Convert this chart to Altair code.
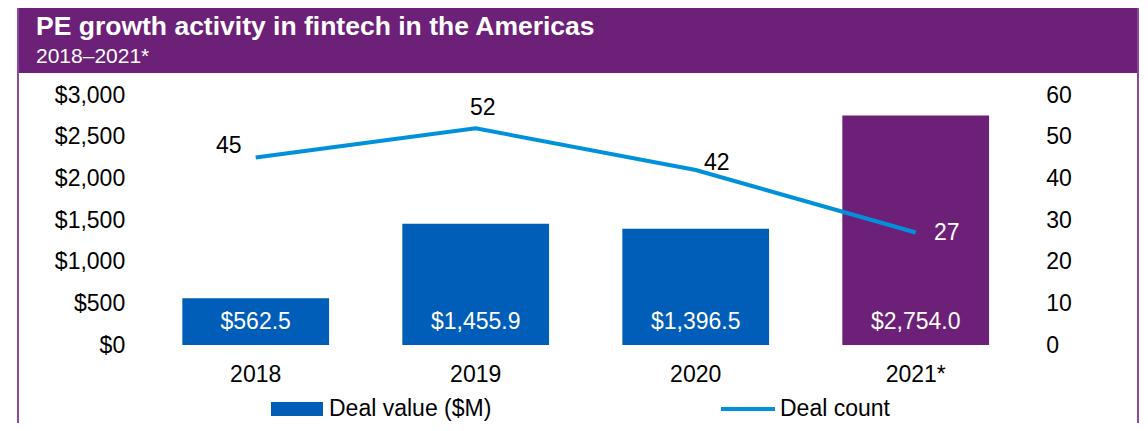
import altair as alt
import pandas as pd

# ---- data ----
years = ["2018", "2019", "2020", "2021*"]
deal_value = [562.5, 1455.9, 1396.5, 2754.0]
deal_count = [45, 52, 42, 27]
value_labels = ["$562.5", "$1,455.9", "$1,396.5", "$2,754.0"]
count_labels = ["45", "52", "42", "27"]

title_text = "PE growth activity in fintech in the Americas"
subtitle_text = "2018–2021*"
legend_labels = ["Deal value ($M)", "Deal count"]
value_ticks = [0, 500, 1000, 1500, 2000, 2500, 3000]
count_ticks = [0, 10, 20, 30, 40, 50, 60]

# ---- styles ----
PURPLE = "#6D2077"
BLUE = "#005EB8"
LIGHT = "#0091DA"
FONT = "Liberation Sans"
FS = 23
W, H = 880, 250

df = pd.DataFrame({"year": years, "value": deal_value, "count": deal_count,
                   "vlabel": value_labels, "clabel": count_labels})
one = pd.DataFrame({"k": [0]})

xscale = alt.Scale(paddingInner=0.333, paddingOuter=0.1665)
x_enc = alt.X("year:N", sort=years, scale=xscale,
              axis=alt.Axis(title=None, labelAngle=0, ticks=False, tickSize=0, domain=False,
                            labelPadding=18, labelFontSize=FS, labelColor="#000", labelFont=FONT))
vscale = alt.Scale(domain=[0, 3000], nice=False)
cscale = alt.Scale(domain=[0, 60], nice=False)

base = alt.Chart(df)

bars = base.mark_bar().encode(
    x=x_enc,
    y=alt.Y("value:Q", scale=vscale,
            axis=alt.Axis(title=None, values=value_ticks, format="$,.0f", ticks=False, domain=False,
                          grid=False, labelPadding=21, labelFontSize=FS, labelColor="#000",
                          labelFont=FONT)),
    color=alt.condition("datum.year === '2021*'", alt.value(PURPLE), alt.value(BLUE)),
)

bar_text = base.mark_text(color="white", fontSize=FS, font=FONT, baseline="middle", dy=-23).encode(
    x=x_enc,
    y=alt.YDatum(0, scale=vscale, axis=None),
    text="vlabel:N",
)

line = base.mark_line(color=LIGHT, strokeWidth=4).encode(
    x=x_enc,
    y=alt.Y("count:Q", scale=cscale,
            axis=alt.Axis(title=None, orient="right", values=count_ticks, ticks=False, domain=False,
                          grid=False, labelPadding=20, labelFontSize=FS, labelColor="#000",
                          labelFont=FONT)),
)

label_styles = [(-27, -11.5, "#000"), (7, -20, "#000"), (21, -7, "#000"), (31, 0, "#fff")]
count_text_layers = []
for yr, (dx, dy, col) in zip(years, label_styles):
    count_text_layers.append(
        base.transform_filter(alt.datum.year == yr).mark_text(
            fontSize=FS, font=FONT, color=col, dx=dx, dy=dy, baseline="middle", align="center"
        ).encode(
            x=x_enc,
            y=alt.Y("count:Q", scale=cscale, axis=None),
            text="clabel:N",
        )
    )

# ---- frame and header ----
header = alt.Chart(one).mark_rect(color=PURPLE).encode(
    x=alt.value(-127.7), x2=alt.value(992.3), y=alt.value(-91), y2=alt.value(-22))
frame_l = alt.Chart(one).mark_rule(color="#8A4A9E", strokeWidth=2).encode(
    x=alt.value(-127.7), y=alt.value(-91), y2=alt.value(340))
frame_r = alt.Chart(one).mark_rule(color="#8A4A9E", strokeWidth=2).encode(
    x=alt.value(992.3), y=alt.value(-91), y2=alt.value(340))

title = alt.Chart(pd.DataFrame({"t": [title_text]})).mark_text(
    align="left", baseline="alphabetic", font=FONT, fontWeight="bold", fontSize=26.5, color="white"
).encode(x=alt.value(-109.7), y=alt.value(-60), text="t:N")
subtitle = alt.Chart(pd.DataFrame({"t": [subtitle_text]})).mark_text(
    align="left", baseline="alphabetic", font=FONT, fontSize=21, color="white"
).encode(x=alt.value(-109.7), y=alt.value(-32), text="t:N")

# ---- legend ----
leg_y = 314
leg_rect = alt.Chart(one).mark_rect(color=BLUE).encode(
    x=alt.value(125.3), x2=alt.value(177.3), y=alt.value(leg_y - 7), y2=alt.value(leg_y + 7))
leg_line = alt.Chart(one).mark_rule(color=LIGHT, strokeWidth=4).encode(
    x=alt.value(575.3), x2=alt.value(629.3), y=alt.value(leg_y))
leg_t1 = alt.Chart(pd.DataFrame({"t": [legend_labels[0]]})).mark_text(
    align="left", baseline="middle", font=FONT, fontSize=FS, color="#000"
).encode(x=alt.value(183.3), y=alt.value(leg_y), text="t:N")
leg_t2 = alt.Chart(pd.DataFrame({"t": [legend_labels[1]]})).mark_text(
    align="left", baseline="middle", font=FONT, fontSize=FS, color="#000"
).encode(x=alt.value(634.3), y=alt.value(leg_y), text="t:N")

chart = alt.layer(
    header, frame_l, frame_r, title, subtitle,
    bars, bar_text, line, *count_text_layers,
    leg_rect, leg_line, leg_t1, leg_t2,
).resolve_scale(y="independent").properties(
    width=W, height=H,
    padding={"left": 137.7, "top": 87, "right": 114.3, "bottom": 78},
    autosize=alt.AutoSizeParams(type="none"),
    background="white",
).configure_view(stroke=None)

chart.save("out.html", embed_options={"renderer": "svg", "actions": False})
